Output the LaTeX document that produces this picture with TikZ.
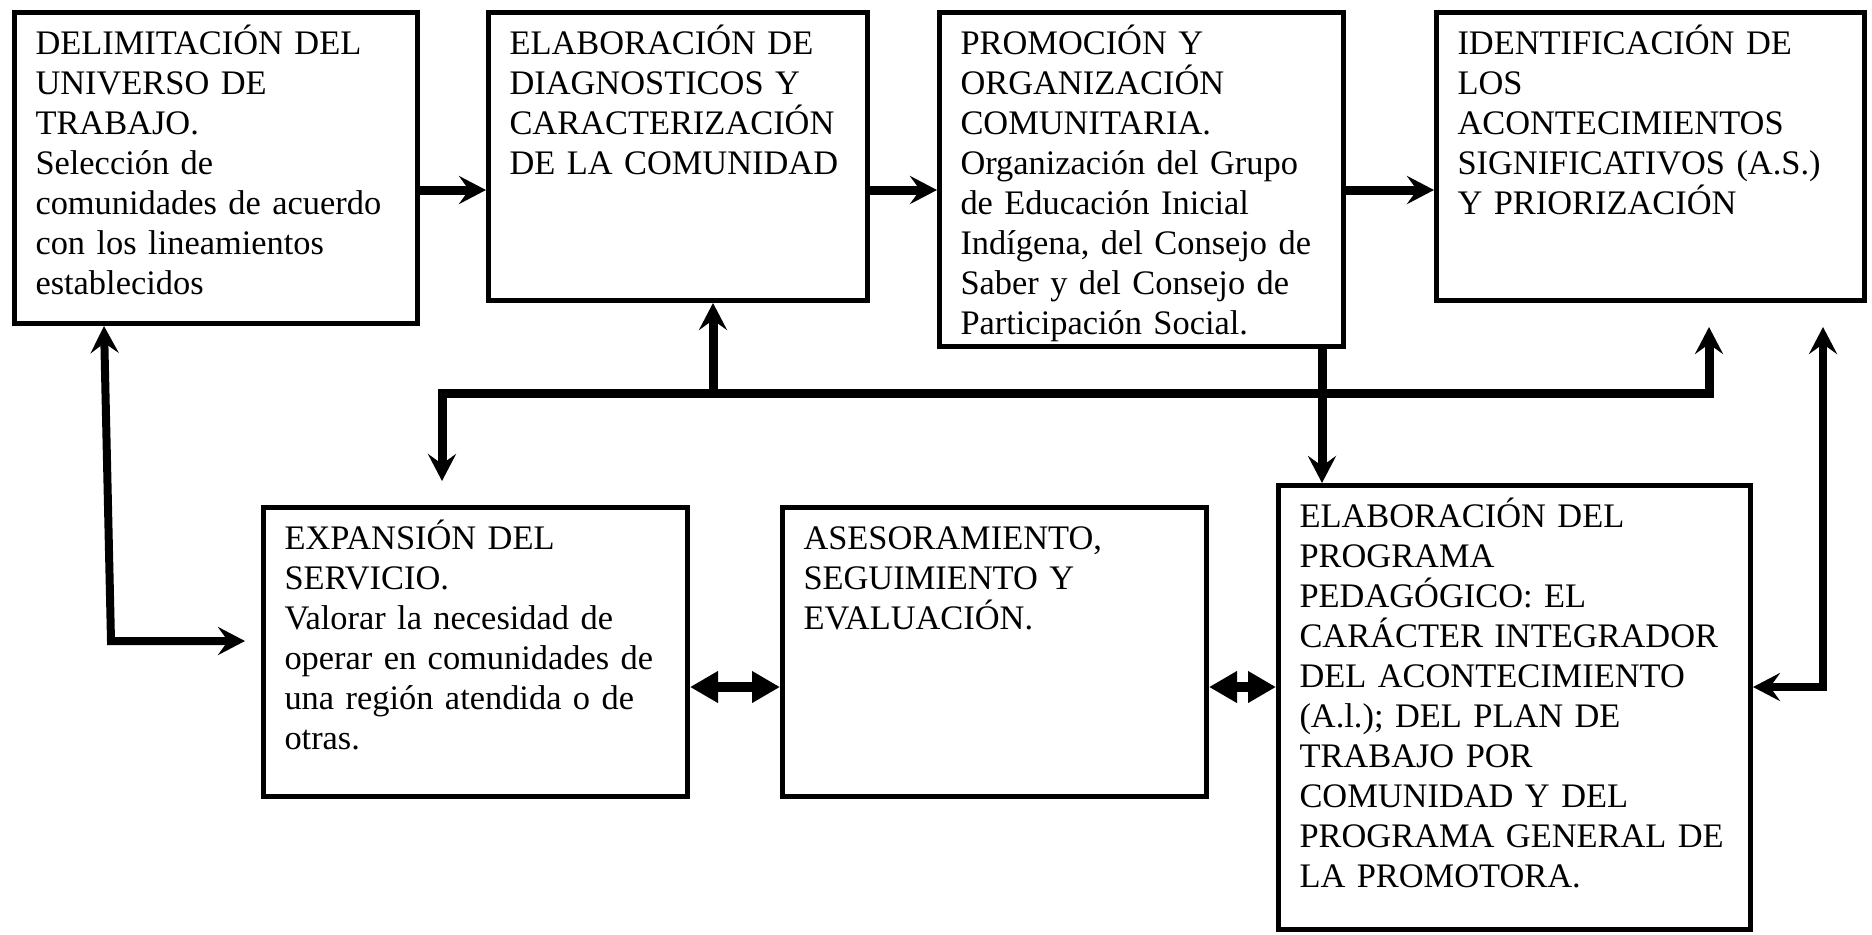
\documentclass[tikz,border=0pt]{standalone}
\usepackage{fontspec}
\setmainfont{Liberation Serif}
\usetikzlibrary{arrows.meta}

\begin{document}
\begin{tikzpicture}[x=0.5pt,y=-0.5pt]
\tikzstyle{stage}=[draw=black, line width=2.5pt, anchor=north west, align=left, inner xsep=10.5pt, inner ysep=0pt, text height=21pt, font=\fontsize{17.2}{20}\selectfont]
\tikzstyle{connect}=[-{Stealth[length=13.5pt,width=14pt,inset=5pt]}, line width=4.5pt]
\tikzstyle{both}=[{Stealth[length=13.5pt,width=14pt,inset=5pt]}-{Stealth[length=13.5pt,width=14pt,inset=5pt]}, line width=4pt]
\tikzstyle{twin}=[{Triangle[length=14pt,width=15pt]}-{Triangle[length=14pt,width=15pt]}, line width=5pt]
\useasboundingbox (0,0) rectangle (1872,934);
  \node[stage, text width=180.5pt, text depth=134.5pt] (delim) at (12,10) {DELIMITACIÓN DEL\\UNIVERSO DE\\TRABAJO.\\Selección de\\comunidades de acuerdo\\con los lineamientos\\establecidos};
  \node[stage, text width=168.5pt, text depth=123pt] (diag) at (486,10) {ELABORACIÓN DE\\DIAGNOSTICOS Y\\CARACTERIZACIÓN\\DE LA COMUNIDAD};
  \node[stage, text width=181pt, text depth=146pt] (promo) at (937,10) {PROMOCIÓN Y\\ORGANIZACIÓN\\COMUNITARIA.\\Organización del Grupo\\de Educación Inicial\\Indígena, del Consejo de\\Saber y del Consejo de\\Participación Social.};
  \node[stage, text width=193pt, text depth=123pt] (ident) at (1434,10) {IDENTIFICACIÓN DE\\LOS\\ACONTECIMIENTOS\\SIGNIFICATIVOS (A.S.)\\Y PRIORIZACIÓN};
  \node[stage, text width=191pt, text depth=123.5pt] (expan) at (261,505) {EXPANSIÓN DEL\\SERVICIO.\\Valorar la necesidad de\\operar en comunidades de\\una región atendida o de\\otras.};
  \node[stage, text width=191pt, text depth=123.5pt] (aseso) at (780,505) {ASESORAMIENTO,\\SEGUIMIENTO Y\\EVALUACIÓN.};
  \node[stage, text width=215pt, text depth=201pt] (progr) at (1276,483) {ELABORACIÓN DEL\\PROGRAMA\\PEDAGÓGICO: EL\\CARÁCTER INTEGRADOR\\DEL ACONTECIMIENTO\\(A.l.); DEL PLAN DE\\TRABAJO POR\\COMUNIDAD Y DEL\\PROGRAMA GENERAL DE\\LA PROMOTORA.};
\coordinate (busL) at (442,393);
\coordinate (busM) at (713,393);
\coordinate (busR) at (1709,393);
  \draw[connect] (delim.east |- 0,190) -- (diag.west |- 0,190);
  \draw[connect] (diag.east |- 0,190) -- (promo.west |- 0,190);
  \draw[connect] (promo.east |- 0,190) -- (ident.west |- 0,190);
  \draw[both, line width=4.5pt, shorten <=12pt, shorten >=12pt] (expan.north -| busL) |- (busR) -- (ident.south -| busR);
  \draw[connect] (busM) -- (diag.south -| busM);
  \draw[connect] (promo.south -| 1322,0) -- (progr.north -| 1322,0);
  \draw[both, shorten >=12pt] (progr.east |- 0,687) -| (ident.south -| 1823,0);
  \draw[both, shorten >=8pt] (delim.south -| 104,0) -- (111,641) -- (expan.west |- 0,641);
  \draw[twin] (expan.east |- 0,687) -- (aseso.west |- 0,687);
  \draw[twin] (aseso.east |- 0,687) -- (progr.west |- 0,687);
\end{tikzpicture}
\end{document}
